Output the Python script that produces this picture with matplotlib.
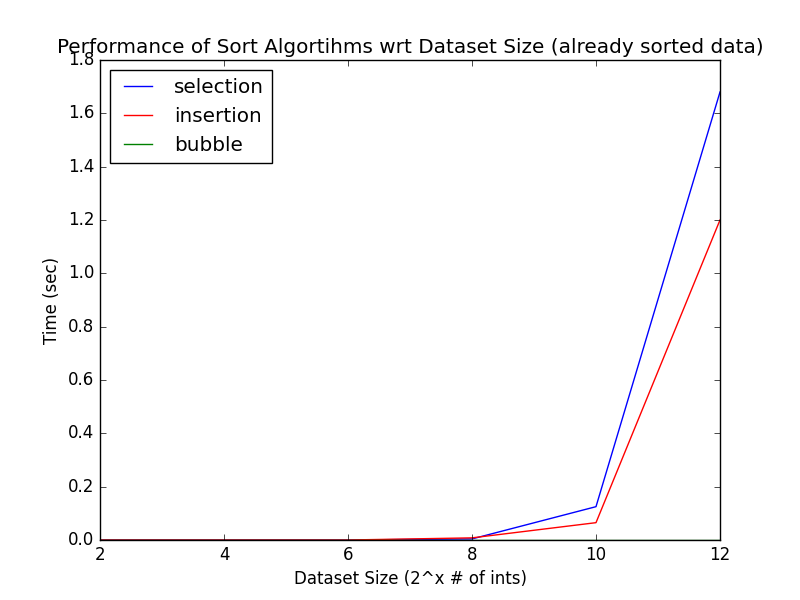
import matplotlib
matplotlib.use("Agg")
import matplotlib.pyplot as plt

sizes = [2, 4, 6, 8, 10, 12]
selection = [0.0, 0.0, 0.0, 0.004, 0.125, 1.68]
insertion = [0.0, 0.0, 0.0, 0.008, 0.065, 1.2]
bubble = [0.0, 0.0, 0.0, 0.0, 0.0, 0.0]

plt.style.use("classic")
fig, ax = plt.subplots(figsize=(8, 6), dpi=100)
ax.plot(sizes, selection, color="blue", label="selection")
ax.plot(sizes, insertion, color="red", label="insertion")
ax.plot(sizes, bubble, color="green", label="bubble")
ax.set_ylim(0, 1.8)
ax.set_xlim(2, 12)
ax.set_title("Performance of Sort Algortihms wrt Dataset Size (already sorted data)")
ax.set_xlabel("Dataset Size (2^x # of ints)")
ax.set_ylabel("Time (sec)")
ax.legend(loc="upper left")
fig.savefig("out.png", dpi=100)
